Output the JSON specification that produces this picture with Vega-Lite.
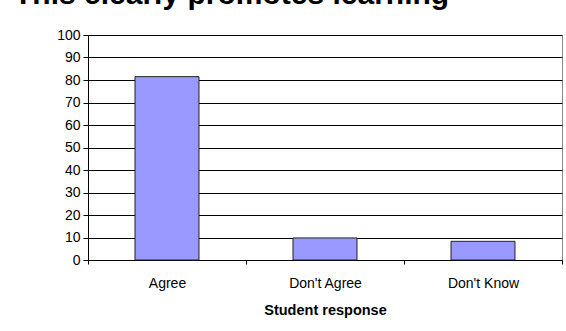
{
  "$schema": "https://vega.github.io/schema/vega-lite/v6.json",
  "width": 474,
  "height": 225,
  "autosize": {"type": "none"},
  "padding": {"left": 88, "top": 35, "right": 4, "bottom": 71},
  "background": "white",
  "title": {
    "text": "This clearly promotes learning",
    "anchor": "start",
    "frame": "group",
    "baseline": "alphabetic",
    "offset": 10,
    "dy": 16,
    "dx": -74,
    "font": "Liberation Sans",
    "fontSize": 30,
    "fontWeight": "bold",
    "color": "black"
  },
  "data": {
    "values": [
      {"response": "Agree", "percent": 81.5},
      {"response": "Don't Agree", "percent": 9.8},
      {"response": "Don't Know", "percent": 8.3}
    ]
  },
  "mark": {
    "type": "bar",
    "color": "#9999FF",
    "stroke": "#222222",
    "strokeWidth": 1,
    "width": {"band": 0.405}
  },
  "encoding": {
    "x": {
      "field": "response",
      "type": "nominal",
      "sort": null,
      "scale": {"paddingInner": 0, "paddingOuter": 0},
      "axis": {
        "title": "Student response",
        "labelAngle": 0,
        "tickBand": "extent",
        "tickSize": 4,
        "tickColor": "black",
        "domainColor": "black",
        "labelPadding": 12,
        "labelFont": "Liberation Sans",
        "labelFontSize": 14,
        "labelColor": "black",
        "titleFont": "Liberation Sans",
        "titleFontSize": 14.5,
        "titleFontWeight": "bold",
        "titleColor": "black",
        "titlePadding": 13
      }
    },
    "y": {
      "field": "percent",
      "type": "quantitative",
      "scale": {"domain": [0, 100], "nice": false},
      "axis": {
        "title": null,
        "values": [0, 10, 20, 30, 40, 50, 60, 70, 80, 90, 100],
        "grid": true,
        "gridColor": "black",
        "gridOpacity": 1,
        "tickSize": 5,
        "tickColor": "black",
        "domainColor": "black",
        "labelPadding": 3,
        "labelFont": "Liberation Sans",
        "labelFontSize": 14,
        "labelColor": "black"
      }
    }
  },
  "config": {
    "view": {"stroke": "#888888", "strokeWidth": 1}
  }
}
